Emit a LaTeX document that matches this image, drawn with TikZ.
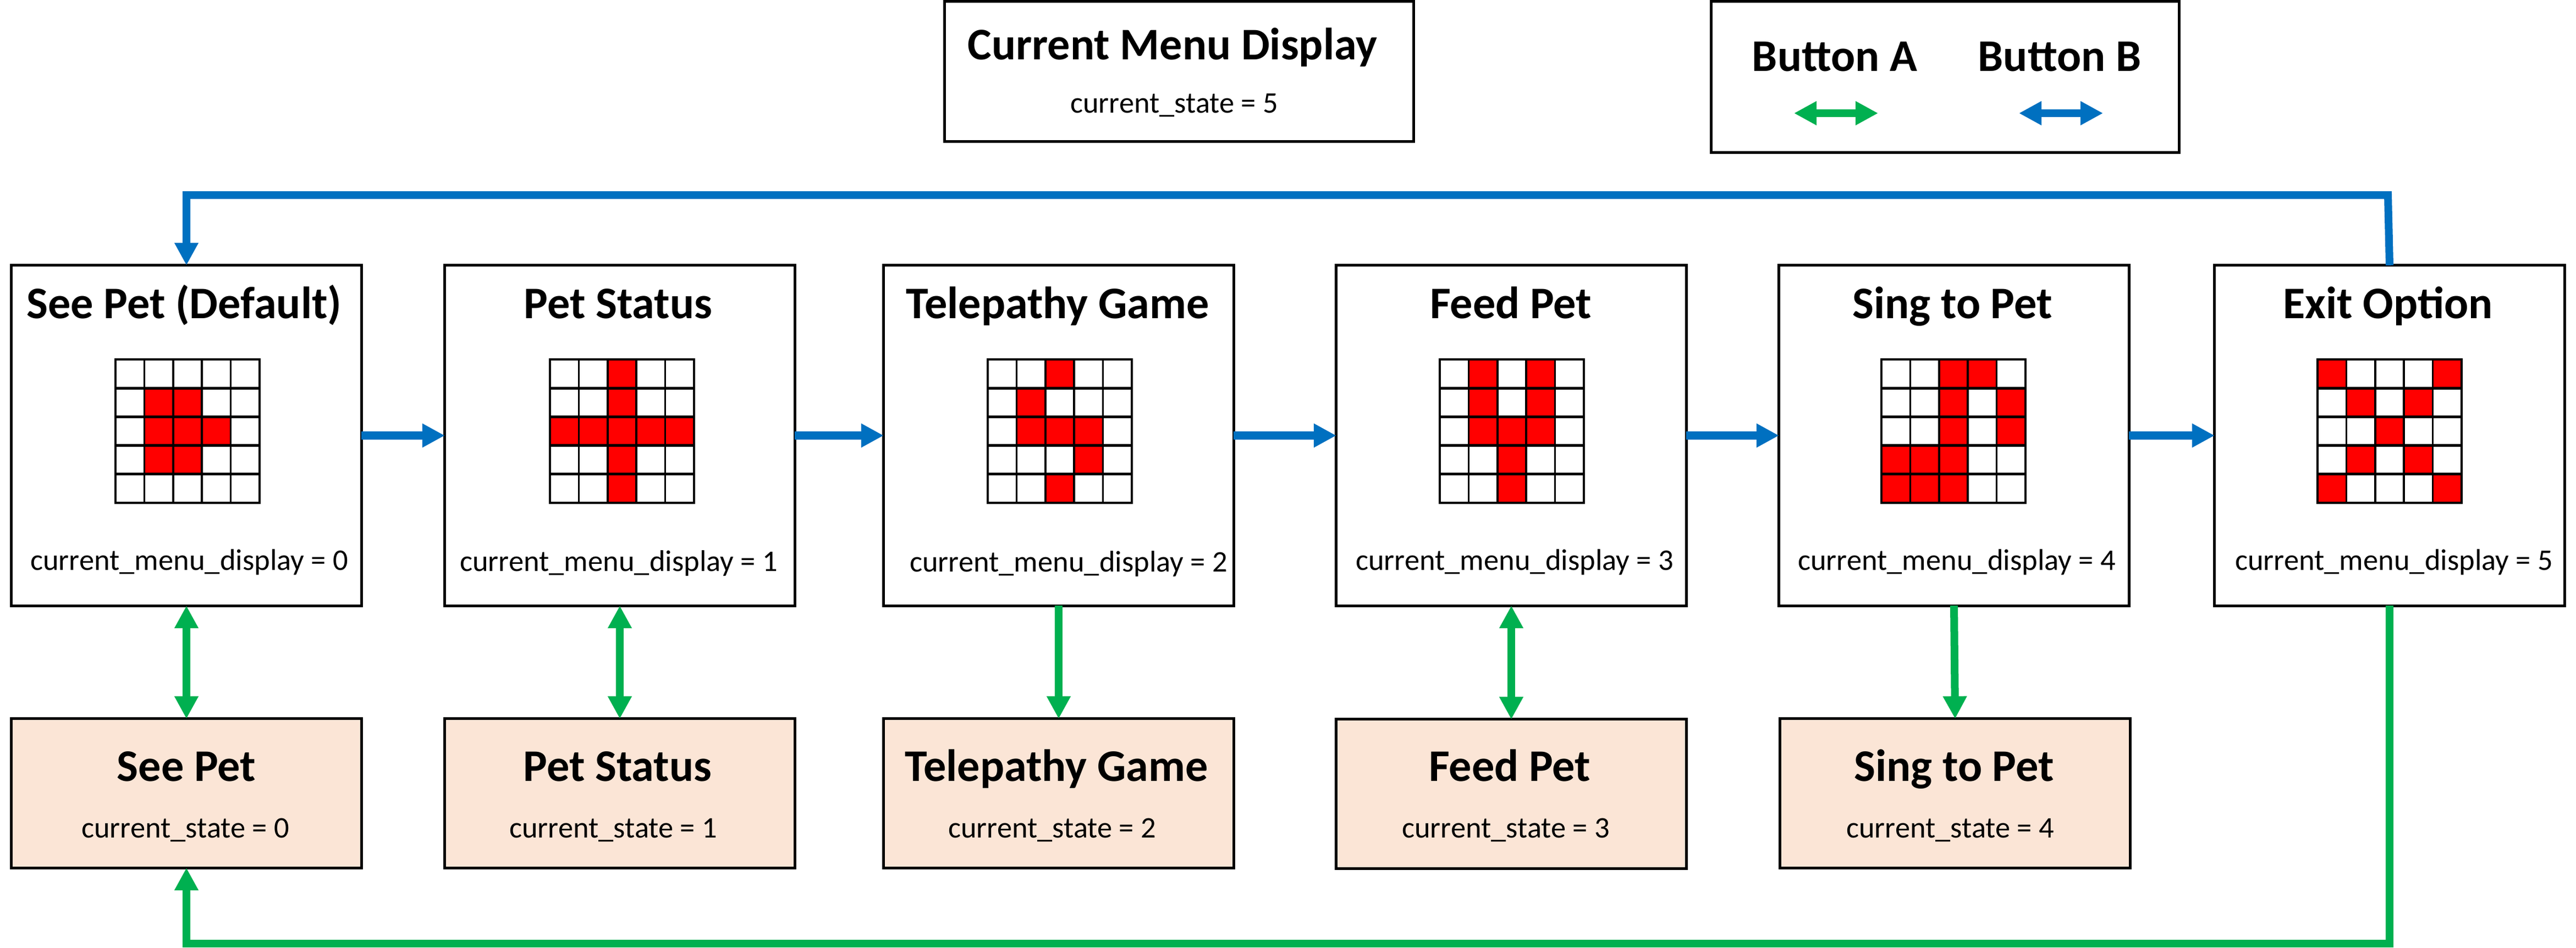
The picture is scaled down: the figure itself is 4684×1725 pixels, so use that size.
\documentclass[tikz,border=0pt]{standalone}
\usepackage{fontspec}
\setmainfont{Carlito}
\usetikzlibrary{arrows.meta}
\definecolor{btnblue}{HTML}{0070C0}
\definecolor{btngreen}{HTML}{00B050}
\definecolor{statefill}{HTML}{FBE5D6}
\tikzset{
  x=0.01cm,y=-0.01cm,
  boxbase/.style={draw=black,line width=.05cm,outer sep=0pt,inner sep=0pt},
  menubox/.style={boxbase,fill=white,minimum width=6.36cm,minimum height=6.19cm},
  statebox/.style={boxbase,fill=statefill,minimum width=6.36cm,minimum height=2.71cm},
  infobox/.style={boxbase,fill=white,minimum width=8.52cm,minimum height=2.54cm},
  legendbox/.style={boxbase,fill=white,minimum width=8.50cm,minimum height=2.74cm},
  titletext/.style={anchor=base,inner sep=0pt,font=\fontsize{23.4pt}{26pt}\selectfont\bfseries},
  smalltext/.style={anchor=base,inner sep=0pt,font=\fontsize{15.5pt}{18pt}\selectfont},
  bluehead/.style={-{Triangle[length=.41cm,width=.41cm]},draw=btnblue,line width=.14cm,miter limit=10},
  greenhead/.style={-{Triangle[length=.41cm,width=.41cm]},draw=btngreen,line width=.14cm,miter limit=10},
  greendouble/.style={{Triangle[length=.41cm,width=.41cm]}-{Triangle[length=.41cm,width=.41cm]},draw=btngreen,line width=.14cm},
  bluedouble/.style={{Triangle[length=.41cm,width=.41cm]}-{Triangle[length=.41cm,width=.41cm]},draw=btnblue,line width=.14cm},
}
% #1 = left x of the grid, #2 = red cells as column/row
\newcommand{\petgrid}[2]{%
  \foreach \cc/\rr in {#2}{%
    \fill[red] ({#1+\cc*52.4},{654+\rr*52.2}) rectangle ({#1+(\cc+1)*52.4},{654+(\rr+1)*52.2});
  }%
  \foreach \cc in {0,...,5}{\draw[line width=.036cm] ({#1+\cc*52.4},652) -- ({#1+\cc*52.4},917);}%
  \foreach \rr in {0,...,5}{\draw[line width=.048cm] ({#1-2},{654+\rr*52.2}) -- ({#1+264},{654+\rr*52.2});}%
}
\begin{document}
\begin{tikzpicture}
\useasboundingbox[fill=white] (0,0) rectangle (4684,1725);

% top boxes
\node[infobox] (menuinfo) at (2144,130) {};
\node[legendbox] (legend) at (3537,140) {};
\node[titletext] (menuinfotitle) at (2132,109) {Current Menu Display};
\node[smalltext] (menuinfostate) at (2135,206) {current\_state = 5};
\node[titletext] (btnA) at (3336,130) {Button A};
\node[titletext] (btnB) at (3745,130) {Button B};
\coordinate (gl) at (3262,206);
\coordinate (gr) at (3415,206);
\coordinate (bl) at (3671,206);
\coordinate (br) at (3824,206);
\draw[greendouble] (gl) -- (gr);
\draw[bluedouble] (bl) -- (br);

% menu boxes
\node[menubox] (m0) at (339,792.5) {};
\node[menubox] (m1) at (1127,792.5) {};
\node[menubox] (m2) at (1925,792.5) {};
\node[menubox] (m3) at (2748,792.5) {};
\node[menubox] (m4) at (3553,792.5) {};
\node[menubox] (m5) at (4345,792.5) {};

\node[titletext] (t0) at (335,580) {See Pet (Default)};
\node[titletext] (t1) at (1124,580) {Pet Status};
\node[titletext] (t2) at (1923,580) {Telepathy Game};
\node[titletext] (t3) at (2747,580) {Feed Pet};
\node[titletext] (t4) at (3550,580) {Sing to Pet};
\node[titletext] (t5) at (4342,580) {Exit Option};

\node[smalltext] (s0) at (344,1037) {current\_menu\_display = 0};
\node[smalltext] (s1) at (1125,1039) {current\_menu\_display = 1};
\node[smalltext] (s2) at (1943,1040) {current\_menu\_display = 2};
\node[smalltext] (s3) at (2754,1037) {current\_menu\_display = 3};
\node[smalltext] (s4) at (3558,1037) {current\_menu\_display = 4};
\node[smalltext] (s5) at (4353,1037) {current\_menu\_display = 5};

% pixel grids
\petgrid{210}{1/1,2/1,1/2,2/2,3/2,1/3,2/3}
\petgrid{1000}{2/0,2/1,0/2,1/2,2/2,3/2,4/2,2/3,2/4}
\petgrid{1796}{2/0,1/1,1/2,2/2,3/2,3/3,2/4}
\petgrid{2618}{1/0,3/0,1/1,3/1,1/2,2/2,3/2,2/3,2/4}
\petgrid{3421}{2/0,3/0,2/1,4/1,2/2,4/2,0/3,1/3,2/3,0/4,1/4,2/4}
\petgrid{4214}{0/0,4/0,1/1,3/1,2/2,1/3,3/3,0/4,4/4}

% state boxes
\node[statebox] (st0) at (339,1443.5) {};
\node[statebox] (st1) at (1127,1443.5) {};
\node[statebox] (st2) at (1925,1443.5) {};
\node[statebox] (st3) at (2748,1444.5) {};
\node[statebox] (st4) at (3555,1443.5) {};

\node[titletext] (u0) at (339,1421) {See Pet};
\node[titletext] (u1) at (1123,1421) {Pet Status};
\node[titletext] (u2) at (1921,1421) {Telepathy Game};
\node[titletext] (u3) at (2745,1421) {Feed Pet};
\node[titletext] (u4) at (3553,1421) {Sing to Pet};

\node[smalltext] (v0) at (337,1524) {current\_state = 0};
\node[smalltext] (v1) at (1115,1524) {current\_state = 1};
\node[smalltext] (v2) at (1913,1524) {current\_state = 2};
\node[smalltext] (v3) at (2738,1524) {current\_state = 3};
\node[smalltext] (v4) at (3546,1524) {current\_state = 4};

% button B arrows
\draw[bluehead] (m0.east) -- (m1.west);
\draw[bluehead] (m1.east) -- (m2.west);
\draw[bluehead] (m2.east) -- (m3.west);
\draw[bluehead] (m3.east) -- (m4.west);
\draw[bluehead] (m4.east) -- (m5.west);
\coordinate (topR) at (4342,355);
\coordinate (topL) at (m0.north |- 0,355);
\draw[bluehead] (m5.north) -- (topR) -- (topL) -- (m0.north);

% button A arrows
\draw[greendouble] (m0.south) -- (st0.north);
\draw[greendouble] (m1.south) -- (st1.north);
\draw[greenhead] (m2.south) -- (st2.north);
\draw[greendouble] (m3.south) -- (st3.north);
\draw[greenhead] (m4.south) -- (st4.north);
\coordinate (botR) at (m5.south |- 0,1717);
\coordinate (botL) at (st0.south |- 0,1717);
\draw[greenhead] (m5.south) -- (botR) -- (botL) -- (st0.south);
\end{tikzpicture}
\end{document}
